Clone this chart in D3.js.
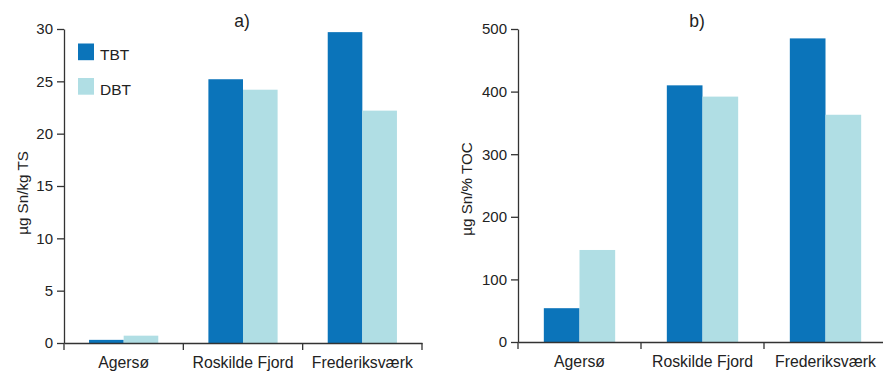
<!DOCTYPE html>
<html><head><meta charset="utf-8">
<script src="https://cdn.jsdelivr.net/npm/d3@7/dist/d3.min.js"></script>
<style>body{margin:0;background:#fff;} text{font-family:"Liberation Sans",Arial,sans-serif;fill:#222;}</style>
</head><body>
<svg id="c" width="883" height="372"></svg>
<script>
const categories = ["Agersø", "Roskilde Fjord", "Frederiksværk"];
const series = ["TBT", "DBT"];
const tbtA = [0.3, 25.2, 29.7];
const dbtA = [0.7, 24.2, 22.2];
const tbtB = [54, 410, 485];
const dbtB = [147, 392, 363];
const ticksA = [0, 5, 10, 15, 20, 25, 30];
const ticksB = [0, 100, 200, 300, 400, 500];
const colors = {TBT: "#0b74ba", DBT: "#b0dee4"};

const svg = d3.select("#c");

function panel(opts) {
  const {x0, x1, y0, y1, max, ticks, tbt, dbt, title, titleX, ylabel, ylabelX, ylabelY} = opts;
  const g = svg.append("g");
  const x = d3.scaleBand().domain(categories).range([x0, x1]).padding(0);
  const xs = d3.scaleBand().domain(series)
    .range([x.bandwidth() * 0.21, x.bandwidth() * 0.79]).padding(0);
  const y = d3.scaleLinear().domain([0, max]).range([y0, y1]);
  const data = categories.map((c, i) => ({c, vals: [{s: "TBT", v: tbt[i]}, {s: "DBT", v: dbt[i]}]}));
  const groups = g.selectAll("g.cat").data(data).join("g")
    .attr("transform", d => `translate(${x(d.c)},0)`);
  groups.selectAll("rect").data(d => d.vals).join("rect")
    .attr("x", d => xs(d.s)).attr("width", xs.bandwidth())
    .attr("y", d => y(d.v)).attr("height", d => y(0) - y(d.v))
    .attr("fill", d => colors[d.s]);

  // y axis
  const ya = d3.axisLeft(y).tickValues(ticks).tickSize(7).tickPadding(4).tickSizeOuter(0);
  const yg = g.append("g").attr("transform", `translate(${x0},0)`).call(ya);
  yg.select(".domain").attr("stroke", "#333").attr("stroke-width", 1.3);
  yg.selectAll(".tick line").attr("stroke", "#333").attr("stroke-width", 1.3);
  yg.selectAll(".tick text").style("font-size", "15px").attr("fill", "#222");

  // x axis
  const xa = d3.axisBottom(x).tickSize(0).tickPadding(14).tickSizeOuter(0);
  const xg = g.append("g").attr("transform", `translate(0,${y0})`).call(xa);
  xg.select(".domain").attr("stroke", "#333").attr("stroke-width", 1.3);
  xg.selectAll(".tick text").style("font-size", "15.8px").attr("fill", "#222");
  const bounds = categories.map(c => x(c)).concat([x1]);
  xg.selectAll("line.bd").data(bounds).join("line").attr("class", "bd")
    .attr("x1", d => d).attr("x2", d => d).attr("y1", 0).attr("y2", 7)
    .attr("stroke", "#333").attr("stroke-width", 1.3);

  g.append("text").attr("x", titleX).attr("y", 26.5).attr("text-anchor", "middle")
    .style("font-size", "17.5px").text(title);
  g.append("text").attr("transform", `translate(${ylabelX},${ylabelY}) rotate(-90)`)
    .attr("text-anchor", "middle").style("font-size", "15.2px").text(ylabel);
}

panel({x0: 64, x1: 422, y0: 343, y1: 29, max: 30, ticks: ticksA, tbt: tbtA, dbt: dbtA,
  title: "a)", titleX: 242, ylabel: "µg Sn/kg TS", ylabelX: 28, ylabelY: 193});
panel({x0: 518, x1: 887, y0: 342, y1: 29, max: 500, ticks: ticksB, tbt: tbtB, dbt: dbtB,
  title: "b)", titleX: 697, ylabel: "µg Sn/% TOC", ylabelX: 471.5, ylabelY: 189});

// legend
const lg = svg.append("g");
series.forEach((s, i) => {
  lg.append("rect").attr("x", 78).attr("y", 43.5 + i * 34.5).attr("width", 16).attr("height", 16.7)
    .attr("fill", colors[s]);
  lg.append("text").attr("x", 100).attr("y", 59.5 + i * 35).style("font-size", "15.5px").text(s);
});
</script>
</body></html>
